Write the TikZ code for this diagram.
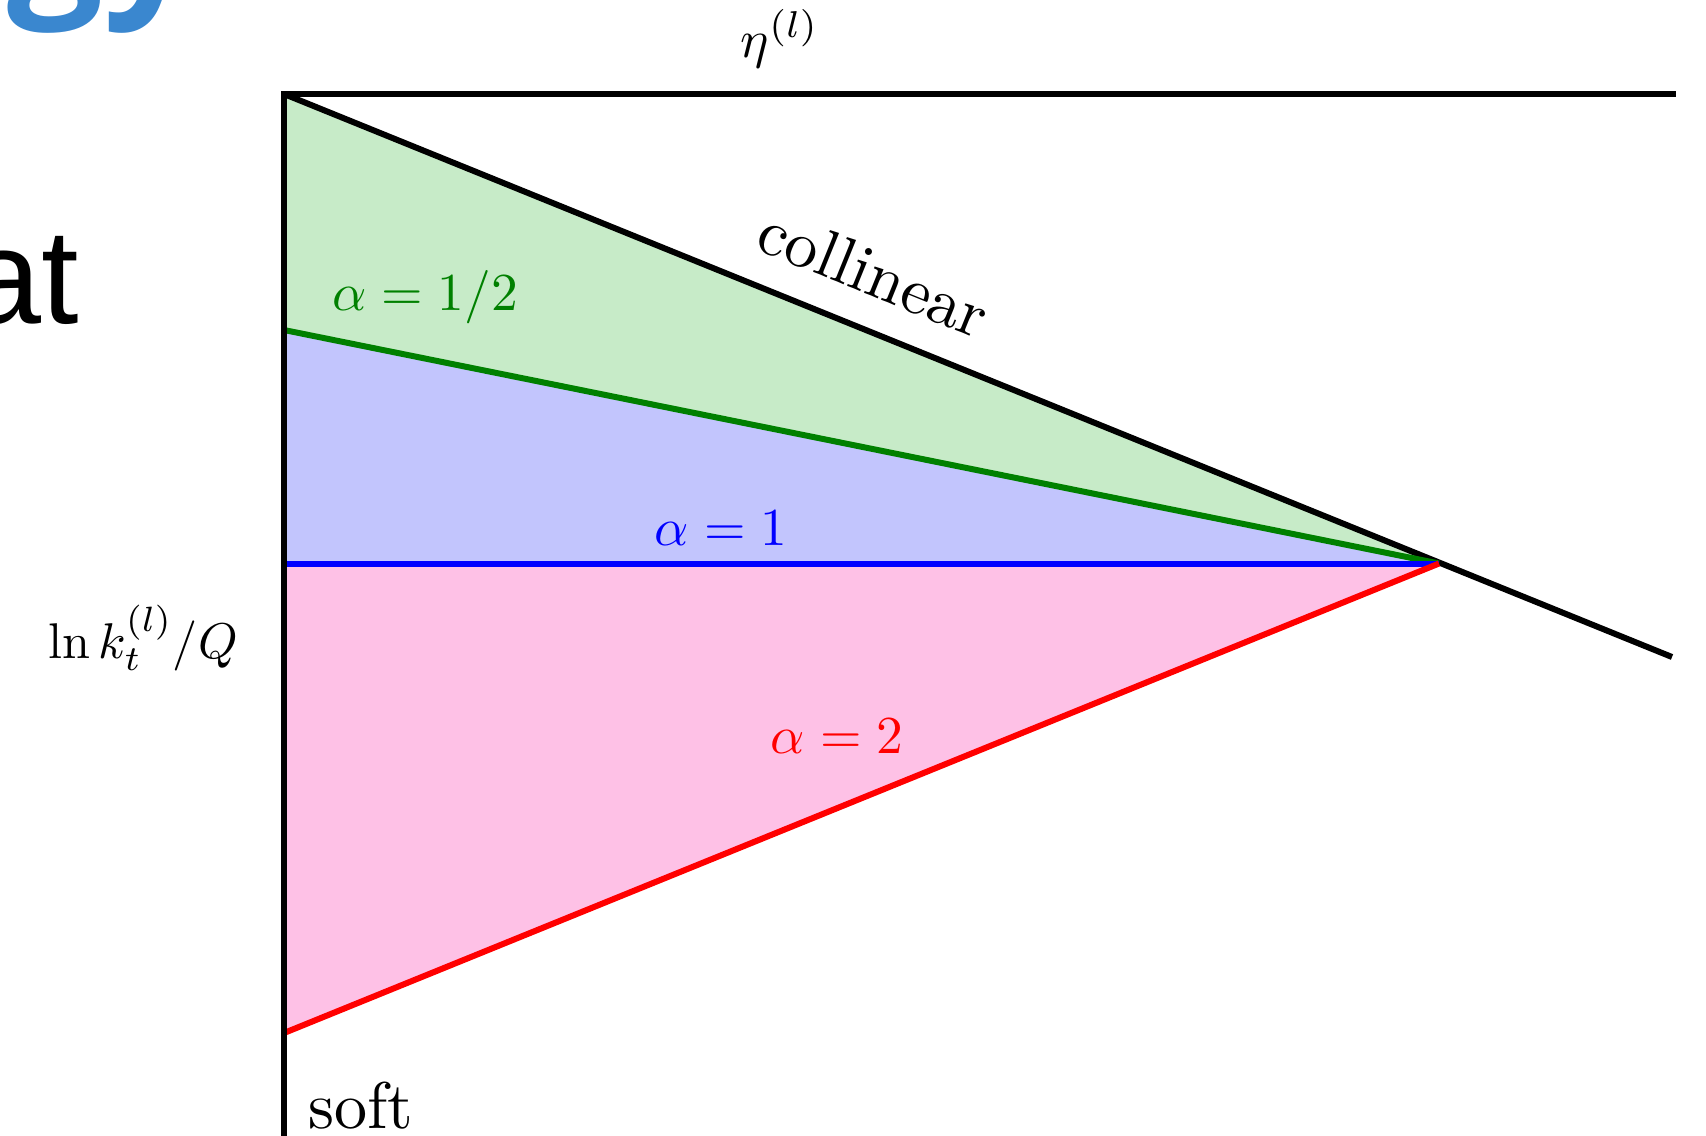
\documentclass[tikz,border=0pt]{standalone}
\usepackage{fontspec}
\newfontfamily\slidesans{Liberation Sans}
\newfontfamily\titlesans{Open Sans}
\definecolor{gfill}{RGB}{199,235,200}
\definecolor{bfill}{RGB}{194,197,253}
\definecolor{pfill}{RGB}{254,193,230}
\definecolor{gline}{RGB}{0,128,0}
\definecolor{bline}{RGB}{0,0,255}
\definecolor{rline}{RGB}{255,0,0}
\definecolor{titleblue}{RGB}{58,135,207}
\tikzset{
  axisline/.style={line width=3pt, black, line join=miter},
  alphaline/.style={line width=3pt},
  mathlabel/.style={inner sep=0pt, outer sep=0pt, anchor=base, scale=2.67},
  wordlabel/.style={inner sep=0pt, outer sep=0pt, scale=3.3},
}
\begin{document}
\begin{tikzpicture}[x=0.5pt,y=-0.5pt]
\useasboundingbox (0,0) rectangle (1706,1135);
\clip (0,0) rectangle (1706,1135);
% slide remnants
\node[inner sep=0pt, outer sep=0pt, anchor=base east, text=titleblue, font=\titlesans\bfseries\fontsize{85}{100}\selectfont] (title) at (200,-8) {gy};
\node[inner sep=0pt, outer sep=0pt, anchor=base east, font=\slidesans\fontsize{67.4}{80}\selectfont] (slide) at (79,323) {at};
% points
\coordinate (O) at (284,94);
\coordinate (E) at (1676,94);
\coordinate (B) at (284,1140);
\coordinate (A) at (1439,563.5);
\coordinate (C) at (1672,657);
\coordinate (G) at (284,330);
\coordinate (L) at (284,563.5);
\coordinate (R) at (284,1033);
% regions
\fill[gfill] (O) -- (A) -- (G) -- cycle;
\fill[bfill] (G) -- (A) -- (L) -- cycle;
\fill[pfill] (L) -- (A) -- (R) -- cycle;
% lines
\draw[axisline] (O) -- (C);
\draw[alphaline, gline] (G) -- (A);
\draw[alphaline, bline] (L) -- (A);
\draw[alphaline, rline] (R) -- (A);
\draw[axisline] (B) -- (O) -- (E);
% labels
\node[mathlabel] (eta) at (780,57) {$\eta^{(l)}$};
\node[mathlabel, scale=0.94] (kt) at (143,658) {$\ln k_t^{(l)}/Q$};
\node[mathlabel, text=gline] (ahalf) at (425,310) {$\alpha = 1/2$};
\node[mathlabel, text=bline] (aone) at (721,545) {$\alpha = 1$};
\node[mathlabel, text=rline] (atwo) at (837,753) {$\alpha = 2$};
\node[wordlabel, rotate=-22.1] (coll) at (874,273) {collinear};
\node[wordlabel, anchor=base west] (soft) at (308,1128) {soft};
\end{tikzpicture}
\end{document}
